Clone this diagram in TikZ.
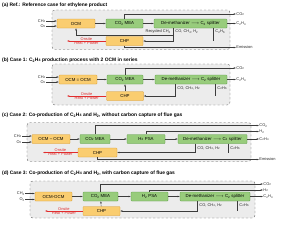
\documentclass[tikz,border=0pt]{standalone}
\usepackage{fontspec}
\setmainfont{Liberation Sans}
\usetikzlibrary{arrows.meta, calc}
\definecolor{OcmFill}{RGB}{250, 205, 112}
\definecolor{OcmEdge}{RGB}{214, 150, 40}
\definecolor{SepFill}{RGB}{152, 204, 124}
\definecolor{SepEdge}{RGB}{84, 150, 62}
\definecolor{FrameFill}{RGB}{236, 236, 236}
\definecolor{FrameEdge}{RGB}{90, 90, 90}
\definecolor{LineGray}{RGB}{60, 60, 60}
\definecolor{HeatRed}{RGB}{225, 45, 45}

\tikzset{
    unitbox/.style={rounded corners=1pt, line width=0.4pt, minimum height=0.45cm, inner sep=0pt, font=\fontsize{6.2}{7}\selectfont},
    orangebox/.style={unitbox, draw=OcmEdge, fill=OcmFill},
    greenbox/.style={unitbox, draw=SepEdge, fill=SepFill},
    plant/.style={draw=FrameEdge, dashed, line width=0.5pt, fill=FrameFill, rounded corners=4pt},
    flow/.style={draw=LineGray, line width=0.4pt, -{Latex[length=1.1mm, width=0.8mm]}},
    pipe/.style={draw=LineGray, line width=0.4pt},
    heat/.style={draw=HeatRed, line width=0.4pt, -{Latex[length=1.1mm, width=0.8mm]}},
    lbl/.style={inner sep=0.5pt, font=\fontsize{5.6}{6}\selectfont, text=black!85},
    heatlbl/.style={inner sep=0.8pt, font=\fontsize{5.6}{6}\selectfont, text=HeatRed},
    paneltitle/.style={anchor=west, inner sep=0pt, font=\fontsize{7}{8}\selectfont\bfseries}
}

\begin{document}
\begin{tikzpicture}[x=0.05cm, y=-0.05cm]

    \useasboundingbox (0,0) rectangle (283,228);

    % --- (a) Reference case ---
    \node[paneltitle] (titA) at (2,5) {(a) Ref.: Reference case for ethylene product};
    \draw[plant] (52,10) rectangle (230,49.5);
    \node[orangebox, minimum width=1.9cm] (ocmA) at (76,23.5) {OCM};
    \node[greenbox, minimum width=1.85cm] (meaA) at (124.5,23.5) {CO\textsubscript{2} MEA};
    \node[greenbox, minimum width=3.65cm] (demA) at (190.5,23.5) {De-methanizer $\longrightarrow$ C\textsubscript{2} splitter};
    \node[orangebox, minimum width=1.85cm] (chpA) at (124.5,41) {CHP};
    \node[lbl, anchor=east] (ch4A) at (46,21) {CH\textsubscript{4}};
    \node[lbl, anchor=east] (o2A) at (46,26) {O\textsubscript{2}};
    \node[lbl, anchor=west] (co2A) at (236,14) {CO\textsubscript{2}};
    \node[lbl, anchor=west] (c2h4A) at (236,23.5) {C\textsubscript{2}H\textsubscript{4}};
    \node[lbl, anchor=west] (emiA) at (236,47.5) {Emission};
    \coordinate (recA) at (173,28);
    \coordinate (ethA) at (213,28);
    \coordinate (heatA) at (67,41);
    \node[lbl, anchor=east] (recLblA) at (171,31.5) {Recycled CH\textsubscript{4}};
    \node[lbl, anchor=west] (fuelLblA) at (175,31.5) {CO, CH\textsubscript{4}, H\textsubscript{2}};
    \node[lbl, anchor=west] (ethLblA) at (215,31.5) {C\textsubscript{2}H\textsubscript{6}};

    \draw[flow] (ch4A) -- (ch4A -| ocmA.west);
    \draw[flow] (o2A) -- (o2A -| ocmA.west);
    \draw[flow] (ocmA) -- (meaA);
    \draw[flow] (meaA) -- (demA);
    \draw[flow] (meaA.north) |- (co2A);
    \draw[flow] (demA) -- (c2h4A);
    \draw[flow] (recA) -- ++(0,7) -| (ocmA.south);
    \draw[flow] (recA) |- (chpA);
    \draw[pipe] (ethA) -- (ethA |- chpA);
    \draw[flow] (chpA.south) |- (emiA);
    \draw[heat] (chpA) -- node[heatlbl, above] {Onsite} node[heatlbl, below] {Heat + Power} (heatA);

    % --- (b) Case 1 ---
    \node[paneltitle] (titB) at (2,60) {(b) Case 1: C\textsubscript{2}H\textsubscript{4} production process with 2 OCM in series};
    \draw[plant] (52,64) rectangle (230,105);
    \node[orangebox, minimum width=1.9cm] (ocmB) at (78,79.5) {OCM = OCM};
    \node[greenbox, minimum width=1.8cm] (meaB) at (125,79.5) {CO\textsubscript{2} MEA};
    \node[greenbox, minimum width=3.6cm] (demB) at (191,79.5) {De-methanizer $\longrightarrow$ C\textsubscript{2} splitter};
    \node[orangebox, minimum width=1.85cm] (chpB) at (125,96) {CHP};
    \node[lbl, anchor=east] (ch4B) at (46,77) {CH\textsubscript{4}};
    \node[lbl, anchor=east] (o2B) at (46,82) {O\textsubscript{2}};
    \node[lbl, anchor=west] (co2B) at (236,68) {CO\textsubscript{2}};
    \node[lbl, anchor=west] (c2h4B) at (236,79.5) {C\textsubscript{2}H\textsubscript{4}};
    \coordinate (fuelB) at (175,84);
    \coordinate (ethB) at (215,84);
    \coordinate (heatB) at (67,96);
    \node[lbl, anchor=west] (fuelLblB) at (177,88) {CO, CH\textsubscript{4}, H\textsubscript{2}};
    \node[lbl, anchor=west] (ethLblB) at (217,88) {C\textsubscript{2}H\textsubscript{6}};

    \draw[flow] (ch4B) -- (ch4B -| ocmB.west);
    \draw[flow] (o2B) -- (o2B -| ocmB.west);
    \draw[flow] (ocmB) -- (meaB);
    \draw[flow] (meaB) -- (demB);
    \draw[flow] (meaB.north) |- (co2B);
    \draw[flow] (demB) -- (c2h4B);
    \draw[flow] (chpB) -- (meaB);
    \draw[flow] (fuelB) |- (chpB);
    \draw[pipe] (ethB) -- (ethB |- chpB);
    \draw[heat] (chpB) -- node[heatlbl, above] {Onsite} node[heatlbl, below] {Heat + Power} (heatB);

    % --- (c) Case 2 ---
    \node[paneltitle] (titC) at (2,115) {(c) Case 2: Co-production of C\textsubscript{2}H\textsubscript{4} and H\textsubscript{2}, without carbon capture of flue gas};
    \draw[plant] (27,122.5) rectangle (251,161.5);
    \node[orangebox, minimum width=1.9cm] (ocmC) at (51,139) {OCM -- OCM};
    \node[greenbox, minimum width=1.5cm] (meaC) at (95,139) {CO\textsubscript{2} MEA};
    \node[greenbox, minimum width=1.9cm] (psaC) at (146,139) {H\textsubscript{2} PSA};
    \node[greenbox, minimum width=3.45cm] (demC) at (212.5,139) {De-methanizer $\longrightarrow$ C\textsubscript{2} splitter};
    \node[orangebox, minimum width=1.95cm] (chpC) at (97.5,152.5) {CHP};
    \node[lbl, anchor=east] (ch4C) at (22,136) {CH\textsubscript{4}};
    \node[lbl, anchor=east] (o2C) at (22,142) {O\textsubscript{2}};
    \node[lbl, anchor=west] (co2C) at (259,125.5) {CO\textsubscript{2}};
    \node[lbl, anchor=west] (h2C) at (259,131.5) {H\textsubscript{2}};
    \node[lbl, anchor=west] (c2h4C) at (259,139) {C\textsubscript{2}H\textsubscript{4}};
    \node[lbl, anchor=west] (emiC) at (259,159.5) {Emission};
    \coordinate (fuelC) at (195,143.5);
    \coordinate (ethC) at (228,143.5);
    \coordinate (heatC) at (43,152.5);
    \node[lbl, anchor=west] (fuelLblC) at (197,148) {CO, CH\textsubscript{4}, H\textsubscript{2}};
    \node[lbl, anchor=west] (ethLblC) at (230,148) {C\textsubscript{2}H\textsubscript{6}};

    \draw[flow] (ch4C) -- (ch4C -| ocmC.west);
    \draw[flow] (o2C) -- (o2C -| ocmC.west);
    \draw[flow] (ocmC) -- (meaC);
    \draw[flow] (meaC) -- (psaC);
    \draw[flow] (psaC) -- (demC);
    \draw[flow] (meaC.north) |- (co2C);
    \draw[flow] (psaC.north) |- (h2C);
    \draw[flow] (demC) -- (c2h4C);
    \draw[flow] (fuelC) |- (chpC);
    \draw[pipe] (ethC) -- (ethC |- chpC);
    \draw[flow] (chpC.south) |- (emiC);
    \draw[heat] (chpC) -- node[heatlbl, above] {Onsite} node[heatlbl, below] {Heat + Power} (heatC);

    % --- (d) Case 3 ---
    \node[paneltitle] (titD) at (2,173) {(d) Case 3: Co-production of C\textsubscript{2}H\textsubscript{4} and H\textsubscript{2}, with carbon capture of flue gas};
    \draw[plant] (30,181) rectangle (255,218);
    \node[orangebox, minimum width=1.85cm] (ocmD) at (53.5,196.5) {OCM-OCM};
    \node[greenbox, minimum width=1.75cm] (meaD) at (100.5,196.5) {CO\textsubscript{2} MEA};
    \node[greenbox, minimum width=1.85cm] (psaD) at (149.5,196.5) {H\textsubscript{2} PSA};
    \node[greenbox, minimum width=3.5cm] (demD) at (215,196.5) {De-methanizer $\longrightarrow$ C\textsubscript{2} splitter};
    \node[orangebox, minimum width=1.85cm] (chpD) at (101.5,211) {CHP};
    \node[lbl, anchor=east] (ch4D) at (25,193.5) {CH\textsubscript{4}};
    \node[lbl, anchor=east] (o2D) at (25,199.5) {O\textsubscript{2}};
    \node[lbl, anchor=west] (co2D) at (263,184) {CO\textsubscript{2}};
    \node[lbl, anchor=west] (h2D) at (263,190) {H\textsubscript{2}};
    \node[lbl, anchor=west] (c2h4D) at (263,196.5) {C\textsubscript{2}H\textsubscript{4}};
    \coordinate (fuelD) at (197,201);
    \coordinate (ethD) at (237,201);
    \coordinate (heatD) at (45,211);
    \node[lbl, anchor=west] (fuelLblD) at (199,205) {CO, CH\textsubscript{4}, H\textsubscript{2}};
    \node[lbl, anchor=west] (ethLblD) at (239,205) {C\textsubscript{2}H\textsubscript{6}};

    \draw[flow] (ch4D) -- (ch4D -| ocmD.west);
    \draw[flow] (o2D) -- (o2D -| ocmD.west);
    \draw[flow] (ocmD) -- (meaD);
    \draw[flow] (meaD) -- (psaD);
    \draw[flow] (psaD) -- (demD);
    \draw[flow] (meaD.north) |- (co2D);
    \draw[flow] (psaD.north) |- (h2D);
    \draw[flow] (demD) -- (c2h4D);
    \draw[flow] (chpD) -- (meaD);
    \draw[flow] (fuelD) |- (chpD);
    \draw[pipe] (ethD) -- (ethD |- chpD);
    \draw[heat] (chpD) -- node[heatlbl, above] {Onsite} node[heatlbl, below] {Heat + Power} (heatD);

\end{tikzpicture}
\end{document}
